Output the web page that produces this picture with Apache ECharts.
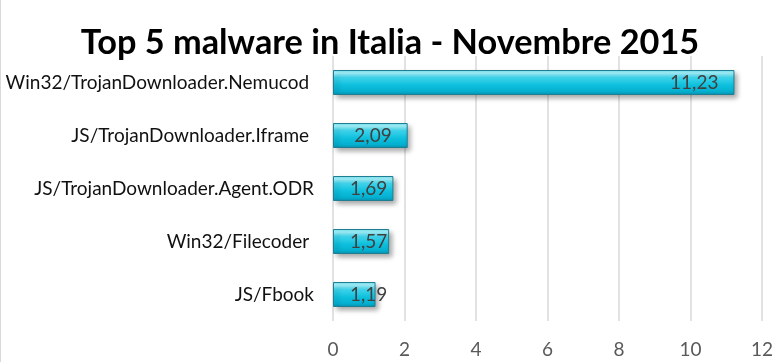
<!DOCTYPE html>
<html>
<head>
<meta charset="utf-8">
<script src="https://cdn.jsdelivr.net/npm/echarts@6/dist/echarts.min.js"></script>
<style>
html,body{margin:0;padding:0;background:#fff;}
#chart{width:779px;height:362px;box-sizing:border-box;border-left:1px solid #d9d9d9;}
</style>
</head>
<body>
<div id="chart"></div>
<script>
const titleText = 'Top 5 malware in Italia - Novembre 2015';
const categories = [
  'Win32/TrojanDownloader.Nemucod ',
  'JS/TrojanDownloader.Iframe ',
  'JS/TrojanDownloader.Agent.ODR',
  'Win32/Filecoder ',
  'JS/Fbook'
];
const values = [11.23, 2.09, 1.69, 1.57, 1.19];
const xTicks = [0, 2, 4, 6, 8, 10, 12];

const chart = echarts.init(document.getElementById('chart'));
const fmt = v => v.toFixed(2).replace('.', ',');

const barGradient = new echarts.graphic.LinearGradient(0, 0, 0, 1, [
  {offset: 0, color: '#6fe2f4'},
  {offset: 0.12, color: '#a6f6ff'},
  {offset: 0.3, color: '#40d4ec'},
  {offset: 0.6, color: '#0ec0dd'},
  {offset: 0.88, color: '#04aecf'},
  {offset: 1, color: '#0b8ea8'}
]);

const data = values.map(v => {
  const small = v < 2;
  return {
    value: v,
    label: small
      ? {position: [17, '50%'], align: 'left', verticalAlign: 'middle'}
      : {position: 'insideRight', distance: 16}
  };
});

chart.setOption({
  animation: false,
  title: {
    text: titleText,
    left: 'center',
    top: 21,
    textStyle: {fontFamily: 'Lato', fontWeight: 'bold', fontSize: 34.3, color: '#000'}
  },
  grid: {left: 332, right: 17, top: 56, bottom: 41},
  xAxis: {
    type: 'value',
    min: xTicks[0],
    max: xTicks[xTicks.length - 1],
    interval: 2,
    axisLine: {show: false},
    axisTick: {show: false},
    axisLabel: {fontFamily: 'Lato', fontSize: 19, color: '#595959', margin: 19},
    splitLine: {show: true, lineStyle: {color: '#d9d9d9', width: 1.5}}
  },
  yAxis: {
    type: 'category',
    data: categories,
    inverse: true,
    axisLine: {show: false},
    axisTick: {show: false},
    axisLabel: {fontFamily: 'Lato', fontSize: 19, color: '#111', margin: 19}
  },
  series: [{
    type: 'bar',
    data: data,
    barWidth: 25,
    itemStyle: {
      color: barGradient,
      borderColor: '#1f7f92',
      borderWidth: 1,
      shadowColor: 'rgba(0,0,0,0.35)',
      shadowBlur: 5,
      shadowOffsetX: 3,
      shadowOffsetY: 3
    },
    label: {
      show: true,
      formatter: p => fmt(p.value),
      fontFamily: 'Lato',
      fontSize: 19,
      color: '#404040'
    }
  }]
});
</script>
</body>
</html>
